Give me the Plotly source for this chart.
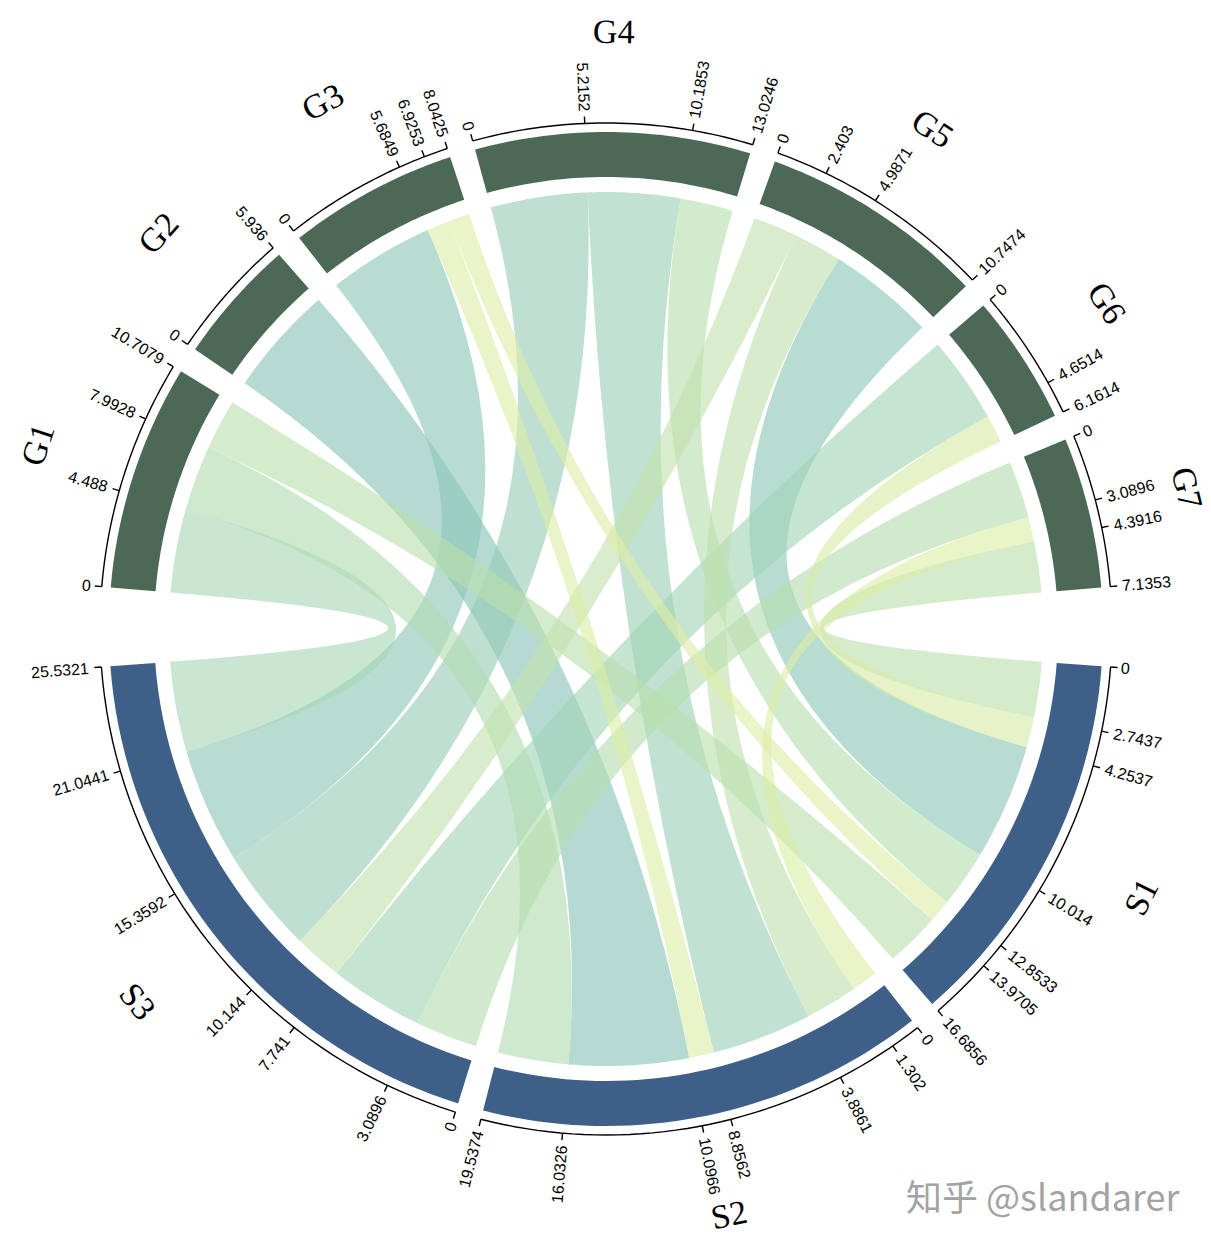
import math
import plotly.graph_objects as go

g_names = ["G1", "G2", "G3", "G4", "G5", "G6", "G7"]
s_names = ["S1", "S2", "S3"]
# link values: rows = G1..G7, columns = S1, S2, S3
to_S1 = [2.7151, 0, 1.1172, 2.8393, 5.7603, 1.51, 2.7437]
to_S2 = [3.5048, 5.936, 1.2404, 4.9701, 2.5841, 0, 1.302]
to_S3 = [4.488, 0, 5.6849, 5.2152, 2.403, 4.6514, 3.0896]
links = [[to_S1[i], to_S2[i], to_S3[i]] for i in range(7)]

CX, CY = 0.0, 0.0
R_RIB, R_IN, R_OUT, R_TICK = 437, 452, 497, 506
GAP = 3.0
gtot = [sum(r) for r in links]
stot = [sum(links[i][j] for i in range(7)) for j in range(3)]
k_u = (170.4 - 6 * GAP) / sum(gtot)
k_l = (171.4 - 2 * GAP) / sum(stot)

g_start = []
a = 175.2
for t in gtot:
    g_start.append(a); a -= k_u * t + GAP
s_start = []
a = -4.3
for t in stot:
    s_start.append(a); a -= k_l * t + GAP

def pt(ang, r):
    return CX + r * math.cos(math.radians(ang)), CY + r * math.sin(math.radians(ang))

def arc(a1, a2, r, n=40):
    return [pt(a1 + (a2 - a1) * i / n, r) for i in range(n + 1)]

def hexrgb(h):
    return [int(h[i:i + 2], 16) for i in (1, 3, 5)]

stops = [(1.1, hexrgb("#e0efa6")), (2.8, hexrgb("#b9dfae")), (4.5, hexrgb("#a6d6b8")), (6.0, hexrgb("#86c3b6"))]
def color(v):
    if v <= stops[0][0]: c = stops[0][1]
    elif v >= stops[-1][0]: c = stops[-1][1]
    else:
        for (v0, c0), (v1, c1) in zip(stops, stops[1:]):
            if v0 <= v <= v1:
                f = (v - v0) / (v1 - v0)
                c = [c0[m] + (c1[m] - c0[m]) * f for m in range(3)]
                break
    return "rgb(%d,%d,%d)" % tuple(int(x) for x in c)

shapes = []
ann = []

def fmt(v):
    return ("%.4f" % round(v, 6)).rstrip("0").rstrip(".")

g_off = {}
for i in range(7):
    pos = 0
    for j in (2, 1, 0):
        v = links[i][j]
        if v > 0:
            g_off[(i, j)] = (pos, pos + v); pos += v
s_off = {}
for j in range(3):
    pos = 0
    for i in range(6, -1, -1):
        v = links[i][j]
        if v > 0:
            s_off[(i, j)] = (pos, pos + v); pos += v

def path_from(points, close=True):
    d = "M %.2f %.2f " % points[0] + " ".join("L %.2f %.2f" % p for p in points[1:])
    return d + (" Z" if close else "")

order = sorted(g_off.keys(), key=lambda ij: -links[ij[0]][ij[1]])
for (i, j) in order:
    v = links[i][j]
    ga1 = g_start[i] - k_u * g_off[(i, j)][0]
    ga2 = g_start[i] - k_u * g_off[(i, j)][1]
    sa1 = s_start[j] - k_l * s_off[(i, j)][0]
    sa2 = s_start[j] - k_l * s_off[(i, j)][1]
    A = arc(ga1, ga2, R_RIB)
    B = arc(sa1, sa2, R_RIB)
    d = "M %.2f %.2f " % A[0] + " ".join("L %.2f %.2f" % p for p in A[1:])
    d += " Q %.2f %.2f %.2f %.2f " % (CX, CY, B[0][0], B[0][1])
    d += " ".join("L %.2f %.2f" % p for p in B[1:])
    d += " Q %.2f %.2f %.2f %.2f Z" % (CX, CY, A[0][0], A[0][1])
    shapes.append(dict(type="path", path=d, fillcolor=color(v), opacity=0.62,
                       line=dict(width=0), layer="above"))

def group(name, start, k, total, ticks, barcol):
    a2 = start - k * total
    pts = arc(start, a2, R_OUT) + arc(a2, start, R_IN)
    shapes.append(dict(type="path", path=path_from(pts), fillcolor=barcol, line=dict(width=0)))
    shapes.append(dict(type="path", path=path_from(arc(start, a2, R_TICK), close=False),
                       line=dict(color="black", width=1.4)))
    for tv in ticks:
        ang = start - k * tv
        p0 = pt(ang, R_TICK); p1 = pt(ang, R_TICK + 7)
        shapes.append(dict(type="line", x0=p0[0], y0=p0[1], x1=p1[0], y1=p1[1],
                           line=dict(color="black", width=1.4)))
        txt = fmt(tv)
        w = len(txt) * 8.6
        c = pt(ang, R_TICK + 11 + w / 2)
        th = ((ang + 180) % 360) - 180
        ta = -th if -90 < th <= 90 else -(th - 180) if th > 90 else -(th + 180)
        ann.append(dict(x=c[0], y=c[1], text=txt, showarrow=False, textangle=ta,
                        font=dict(family="Liberation Sans, Arial", size=16, color="black"),
                        xanchor="center", yanchor="middle"))
    mid = (start + a2) / 2
    c = pt(mid, 598)
    th = ((mid + 180) % 360) - 180
    ta = 90 - th if th >= 0 else -90 - th
    ann.append(dict(x=c[0], y=c[1], text=name, showarrow=False, textangle=ta,
                    font=dict(family="Liberation Serif, DejaVu Serif", size=34, color="black"),
                    xanchor="center", yanchor="middle"))

for i in range(7):
    ticks = [0]; acc = 0
    for j in (2, 1, 0):
        if links[i][j] > 0:
            acc += links[i][j]; ticks.append(acc)
    group(g_names[i], g_start[i], k_u, gtot[i], ticks, "#4b6956")
for j in range(3):
    ticks = [0]; acc = 0
    for i in range(6, -1, -1):
        if links[i][j] > 0:
            acc += links[i][j]; ticks.append(acc)
    group(s_names[j], s_start[j], k_l, stot[j], ticks, "#3d5f88")

ann.append(dict(x=1182 - 605, y=627 - 1193, text="知乎 @slandarer", showarrow=False,
                xanchor="right", yanchor="middle",
                font=dict(family="Noto Sans CJK SC", size=36, color="rgba(150,150,150,0.9)")))

fig = go.Figure()
fig.update_layout(width=1211, height=1242, margin=dict(l=0, r=0, t=0, b=0),
                  plot_bgcolor="white", paper_bgcolor="white", shapes=shapes, annotations=ann,
                  showlegend=False)
fig.update_xaxes(range=[-598, 613], visible=False, fixedrange=True)
fig.update_yaxes(range=[-621, 621], visible=False, fixedrange=True)
fig.write_html("out.html")
